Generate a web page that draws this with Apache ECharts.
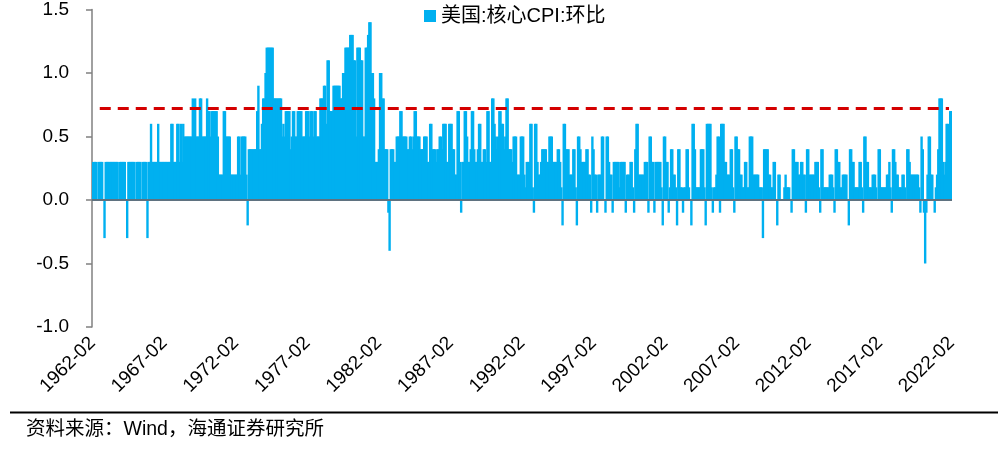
<!DOCTYPE html>
<html>
<head>
<meta charset="utf-8">
<script src="https://cdn.jsdelivr.net/npm/echarts@6/dist/echarts.min.js"></script>
<style>
html,body{margin:0;padding:0;background:#ffffff;}
#chart{width:1007px;height:459px;}
</style>
</head>
<body>
<div id="chart"></div>
<script>
// ---- data (US core CPI, month-on-month %) ----
const startYear = 1962;
const startMonth = 2;
const seriesName = '美国:核心CPI:环比';
const sourceNote = '资料来源：Wind，海通证券研究所';

// 1962-02 .. 1969-12
const cpi1960s = [
  0.3,0.3,0.3,0.3,0.0,0.3,0.3,0.3,0.3,0.0,-0.3,
  0.3,0.3,0.3,0.3,0.3,0.3,0.3,0.3,0.3,0.3,0.3,0.0,
  0.3,0.3,0.3,0.3,0.3,0.0,-0.3,0.3,0.3,0.3,0.3,0.3,
  0.3,0.0,0.3,0.3,0.3,0.3,0.0,0.3,0.3,0.3,0.3,-0.3,
  0.3,0.3,0.6,0.3,0.3,0.3,0.3,0.3,0.6,0.3,0.3,0.3,
  0.3,0.3,0.3,0.3,0.3,0.3,0.3,0.6,0.6,0.3,0.3,0.3,
  0.6,0.6,0.3,0.6,0.3,0.6,0.5,0.5,0.5,0.5,0.5,0.5,
  0.5,0.8,0.6,0.8,0.5,0.5,0.5,0.8,0.8,0.5,0.5,0.5
];
// 1970 .. 1979
const cpi1970s = [
  0.5,0.8,0.7,0.7,0.5,0.7,0.7,0.7,0.7,0.7,0.5,0.2,
  0.2,0.2,0.2,0.7,0.7,0.5,0.5,0.5,0.5,0.2,0.2,0.2,
  0.2,0.2,0.2,0.5,0.5,0.2,0.5,0.5,0.5,0.5,0.2,-0.2,
  0.4,0.4,0.4,0.4,0.4,0.4,0.4,0.7,0.9,0.4,0.4,0.6,
  0.8,0.8,1.0,1.2,1.2,1.2,1.2,1.2,1.2,0.8,0.8,0.8,
  0.8,0.8,0.8,0.8,0.5,0.6,0.5,0.7,0.7,0.7,0.7,0.4,
  0.5,0.7,0.7,0.5,0.5,0.7,0.7,0.7,0.7,0.5,0.5,0.5,
  0.7,0.7,0.7,0.5,0.7,0.7,0.5,0.7,0.7,0.5,0.5,0.5,
  0.8,0.8,0.8,0.9,0.9,0.6,1.1,1.1,0.7,0.7,0.7,0.9,
  0.9,0.9,0.9,0.9,0.9,0.8,0.8,1.0,1.0,1.2,1.2,1.2
];
// 1980 .. 1989
const cpi1980s = [
  1.2,1.3,1.3,1.3,1.1,1.1,0.5,1.2,1.2,1.2,1.1,1.1,
  0.5,0.5,1.2,1.2,1.3,1.4,1.4,1.0,1.0,0.8,0.3,0.3,
  0.3,0.4,1.0,1.0,0.8,0.8,0.4,0.4,0.4,-0.1,-0.4,0.4,
  0.4,0.4,0.3,0.3,0.5,0.5,0.5,0.7,0.7,0.5,0.5,0.5,
  0.5,0.4,0.4,0.5,0.5,0.4,0.5,0.7,0.7,0.5,0.5,0.5,
  0.4,0.4,0.4,0.5,0.5,0.5,0.3,0.3,0.6,0.6,0.4,0.4,
  0.4,0.3,0.4,0.4,0.5,0.5,0.4,0.6,0.6,0.6,0.3,0.3,
  0.6,0.6,0.6,0.4,0.4,0.2,0.2,0.7,0.7,0.3,-0.1,0.3,
  0.3,0.7,0.7,0.5,0.3,0.3,0.4,0.7,0.7,0.4,0.3,0.3,
  0.4,0.6,0.6,0.3,0.3,0.4,0.4,0.3,0.7,0.7,0.3,0.3
];
// 1990 .. 1999
const cpi1990s = [
  0.8,0.8,0.6,0.5,0.4,0.5,0.7,0.7,0.6,0.6,0.4,0.5,
  0.8,0.8,0.4,0.4,0.4,0.3,0.5,0.5,0.5,0.2,0.2,0.2,
  0.5,0.5,0.5,0.2,0.1,0.3,0.3,0.3,0.6,0.6,0.1,-0.1,
  0.6,0.6,0.3,0.2,0.2,0.3,0.4,0.4,0.4,0.4,0.3,0.3,
  0.5,0.5,0.5,0.3,0.3,0.3,0.3,0.4,0.4,0.3,0.1,-0.2,
  0.6,0.6,0.4,0.4,0.4,0.2,0.2,0.2,0.4,0.4,0.1,-0.2,
  0.5,0.5,0.4,0.3,0.3,0.3,0.3,0.4,0.4,0.2,0.2,-0.1,
  0.5,0.4,0.2,0.2,-0.1,0.2,0.2,0.2,0.5,0.5,0.0,-0.1,
  0.5,0.5,0.3,0.2,0.2,-0.1,0.3,0.3,0.3,0.3,0.3,0.1,
  0.3,0.3,0.3,0.3,-0.1,0.2,0.2,0.2,0.3,0.3,0.1,-0.1
];
// 2000 .. 2009
const cpi2000s = [
  0.4,0.6,0.6,0.2,0.2,0.2,0.2,0.2,0.3,0.3,0.3,-0.1,
  0.5,0.5,0.3,0.3,-0.1,0.3,0.3,0.3,0.3,0.3,0.1,-0.2,
  0.5,0.5,0.3,0.3,-0.1,0.1,0.4,0.4,0.2,0.2,0.1,-0.2,
  0.4,0.4,0.1,0.1,-0.1,0.1,0.1,0.4,0.4,0.1,0.0,-0.2,
  0.6,0.6,0.4,0.1,0.1,0.1,0.1,0.4,0.4,0.4,0.1,-0.2,
  0.6,0.6,0.6,0.6,0.1,-0.1,0.1,0.1,0.2,0.5,0.5,-0.1,
  0.6,0.6,0.6,0.3,0.3,0.2,0.2,0.2,0.4,0.4,0.1,-0.1,
  0.5,0.5,0.4,0.4,0.2,0.2,0.1,0.1,0.3,0.3,0.1,0.1,
  0.5,0.5,0.5,0.2,0.2,0.2,0.2,0.2,0.1,0.1,0.1,-0.3,
  0.4,0.4,0.4,0.4,0.2,0.2,0.1,0.1,0.3,0.3,0.0,-0.2
];
// 2010 .. 2019
const cpi2010s = [
  0.2,0.2,0.0,0.0,0.0,0.1,0.2,0.1,0.1,0.1,0.0,-0.1,
  0.4,0.4,0.3,0.3,0.3,0.2,0.2,0.3,0.3,0.2,0.2,-0.1,
  0.4,0.4,0.2,0.2,0.2,0.2,0.2,0.3,0.3,0.3,0.1,-0.1,
  0.4,0.4,0.1,0.1,0.1,0.1,0.1,0.2,0.2,0.2,0.1,-0.1,
  0.4,0.4,0.3,0.3,0.1,0.1,0.2,0.2,0.2,0.2,0.0,-0.2,
  0.4,0.4,0.3,0.3,0.1,0.1,0.1,0.1,0.3,0.3,0.1,-0.1,
  0.5,0.5,0.3,0.3,0.1,0.1,0.1,0.2,0.2,0.2,0.1,0.0,
  0.4,0.4,0.1,0.1,0.1,0.1,0.1,0.2,0.2,0.3,0.1,-0.1,
  0.4,0.4,0.3,0.2,0.2,0.1,0.1,0.1,0.2,0.2,0.1,0.0,
  0.4,0.4,0.3,0.2,0.2,0.2,0.2,0.2,0.2,0.2,0.1,-0.1
];
// 2020 .. 2022-02
const cpi2020s = [
  0.5,0.4,-0.1,-0.5,-0.1,0.2,0.5,0.5,0.2,0.2,0.0,-0.1,
  0.1,0.2,0.4,0.8,0.8,0.8,0.3,0.2,0.3,0.6,0.6,0.4,
  0.7,0.7
];

// axis settings
const yMin = -1.0, yMax = 1.5, yInterval = 0.5;
const labelEvery = 60;          // one x label every 60 months
const refLevel = 0.72;          // dashed red reference level
const refFrom = '1962-08', refTo = '2021-12';

const values = [].concat(cpi1960s, cpi1970s, cpi1980s, cpi1990s, cpi2000s, cpi2010s, cpi2020s);
const categories = values.map(function (_, i) {
  const m = startMonth - 1 + i;
  const y = startYear + Math.floor(m / 12);
  const mm = (m % 12) + 1;
  return y + '-' + (mm < 10 ? '0' + mm : '' + mm);
});

const FONT = '"Liberation Sans", Arial, "Noto Sans CJK SC", sans-serif';
const CJK = '"Liberation Sans", "Noto Sans CJK SC", sans-serif';

const chart = echarts.init(document.getElementById('chart'), null, {renderer: 'canvas'});
chart.setOption({
  animation: false,
  backgroundColor: '#ffffff',
  grid: {left: 92, right: 55, top: 9, bottom: 132, containLabel: false},
  legend: {
    data: [seriesName],
    left: 419, top: 1,
    icon: 'rect', itemWidth: 12, itemHeight: 12,
    textStyle: {fontSize: 20, color: '#000', fontFamily: CJK}
  },
  xAxis: {
    type: 'category',
    data: categories,
    axisLine: {show: false},
    axisTick: {show: false},
    axisLabel: {
      interval: labelEvery - 1, rotate: 45, margin: 13,
      fontSize: 19, color: '#000', fontFamily: FONT
    },
    splitLine: {show: false}
  },
  yAxis: {
    type: 'value', min: yMin, max: yMax, interval: yInterval,
    axisLine: {show: true, lineStyle: {color: '#808080', width: 1.5}},
    axisTick: {show: true, length: 6, lineStyle: {color: '#808080', width: 1.5}},
    axisLabel: {
      margin: 23, fontSize: 19, color: '#000', fontFamily: FONT,
      formatter: function (v) { return v.toFixed(1); }
    },
    splitLine: {show: false}
  },
  series: [{
    name: seriesName,
    type: 'bar',
    data: values,
    barWidth: 2.4,
    itemStyle: {color: '#00B0F0'},
    markLine: {
      silent: true,
      symbol: 'none',
      label: {show: false},
      z: 10,
      data: [
        {yAxis: 0, lineStyle: {color: '#5f7280', width: 2, type: 'solid'}},
        [
          {coord: [refFrom, refLevel], lineStyle: {color: '#D40000', width: 3, type: [11, 7]}},
          {coord: [refTo, refLevel]}
        ]
      ]
    }
  }],
  graphic: [
    {type: 'line', shape: {x1: 10, y1: 412.5, x2: 998, y2: 412.5},
     style: {stroke: '#000', lineWidth: 2}},
    {type: 'text', left: 26, top: 420,
     style: {text: sourceNote, fill: '#000', font: '19.5px ' + CJK}}
  ]
});
</script>
</body>
</html>
